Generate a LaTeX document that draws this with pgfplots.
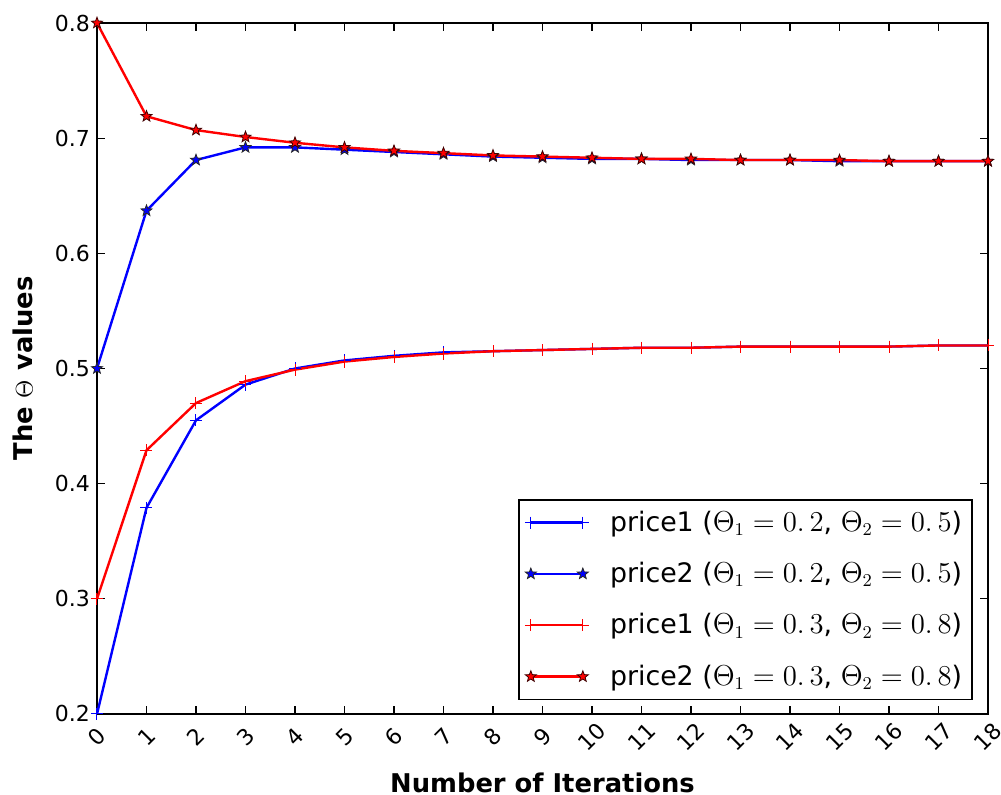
\documentclass[border=0pt]{standalone}
\usepackage{pgfplots}
\pgfplotsset{compat=1.18}
\usepackage{fontspec}
\setmainfont{DejaVu Sans}

% filled five-point star with outline
\pgfdeclareplotmark{fstar}{%
  \pgfpathmoveto{\pgfpointpolar{90}{\pgfplotmarksize}}%
  \pgfpathlineto{\pgfpointpolar{126}{0.42\pgfplotmarksize}}%
  \pgfpathlineto{\pgfpointpolar{162}{\pgfplotmarksize}}%
  \pgfpathlineto{\pgfpointpolar{198}{0.42\pgfplotmarksize}}%
  \pgfpathlineto{\pgfpointpolar{234}{\pgfplotmarksize}}%
  \pgfpathlineto{\pgfpointpolar{270}{0.42\pgfplotmarksize}}%
  \pgfpathlineto{\pgfpointpolar{306}{\pgfplotmarksize}}%
  \pgfpathlineto{\pgfpointpolar{342}{0.42\pgfplotmarksize}}%
  \pgfpathlineto{\pgfpointpolar{18}{\pgfplotmarksize}}%
  \pgfpathlineto{\pgfpointpolar{54}{0.42\pgfplotmarksize}}%
  \pgfpathclose\pgfusepathqfillstroke}

\begin{document}
\begin{tikzpicture}
\begin{axis}[
    name=ax,
    scale only axis,
    width=445.5pt, height=345.5pt,
    xmin=0, xmax=18, ymin=0.2, ymax=0.8,
    xtick={0,1,...,18},
    ytick={0.2,0.3,0.4,0.5,0.6,0.7,0.8},
    yticklabel style={/pgf/number format/fixed, /pgf/number format/precision=1},
    /pgf/number format/assume math mode=true,
    tick label style={font=\fontsize{11}{13}\selectfont},
    xticklabel style={yshift=-11.5pt, rotate=45, anchor=center, inner sep=0pt},
    major tick length=4pt,
    tick style={black, line width=0.6pt},
    axis line style={line width=0.7pt},
    xlabel={\textbf{Number of Iterations}},
    ylabel={\textbf{The $\Theta$ values}},
    label style={font=\fontsize{12.9}{15}\selectfont},
    xlabel style={at={(axis description cs:0.5,-0.1)}, anchor=center, inner sep=0pt},
    ylabel style={at={(axis description cs:-0.083,0.5)}, anchor=center},
    legend style={at={(0.983,0.0203)}, anchor=south east,
        font=\fontsize{13.4}{15}\selectfont, draw=black, line width=0.7pt,
        inner xsep=3pt, inner ysep=3.5pt, row sep=10pt,
        cells={anchor=west}},
    legend image code/.code={%
        \draw[#1] plot coordinates {(0pt,0pt) (26pt,0pt)};
        \path (0pt,0pt) (37pt,0pt);},
]
\addplot[blue, line width=1.2pt, mark=+, mark size=3pt, mark options={line width=0.5pt}]
coordinates {(0,0.200) (1,0.379) (2,0.455) (3,0.486) (4,0.500) (5,0.507) (6,0.511) (7,0.514) (8,0.515) (9,0.516) (10,0.517) (11,0.518) (12,0.518) (13,0.519) (14,0.519) (15,0.519) (16,0.519) (17,0.520) (18,0.520)};
\addlegendentry{price1 ($\Theta_1=0.\,2$, $\Theta_2=0.\,5$)}
\addplot[blue, line width=1.2pt, mark=fstar, mark size=2.9pt, mark options={fill=blue, draw=black!85, line width=0.4pt}]
coordinates {(0,0.500) (1,0.637) (2,0.681) (3,0.692) (4,0.692) (5,0.690) (6,0.688) (7,0.686) (8,0.684) (9,0.683) (10,0.682) (11,0.682) (12,0.681) (13,0.681) (14,0.681) (15,0.680) (16,0.680) (17,0.680) (18,0.680)};
\addlegendentry{price2 ($\Theta_1=0.\,2$, $\Theta_2=0.\,5$)}
\addplot[red, line width=1.2pt, mark=+, mark size=3pt, mark options={line width=0.5pt}]
coordinates {(0,0.300) (1,0.429) (2,0.470) (3,0.489) (4,0.499) (5,0.506) (6,0.510) (7,0.513) (8,0.515) (9,0.516) (10,0.517) (11,0.518) (12,0.518) (13,0.519) (14,0.519) (15,0.519) (16,0.519) (17,0.520) (18,0.520)};
\addlegendentry{price1 ($\Theta_1=0.\,3$, $\Theta_2=0.\,8$)}
\addplot[red, line width=1.2pt, mark=fstar, mark size=2.9pt, mark options={fill=red, draw=black!75!red, line width=0.4pt}]
coordinates {(0,0.800) (1,0.719) (2,0.707) (3,0.701) (4,0.696) (5,0.692) (6,0.689) (7,0.687) (8,0.685) (9,0.684) (10,0.683) (11,0.682) (12,0.682) (13,0.681) (14,0.681) (15,0.681) (16,0.680) (17,0.680) (18,0.680)};
\addlegendentry{price2 ($\Theta_1=0.\,3$, $\Theta_2=0.\,8$)}
\end{axis}
\pgfresetboundingbox
\path ([shift={(-48.5pt,-40.5pt)}]ax.south west) rectangle ([shift={(6.5pt,11.5pt)}]ax.north east);
\end{tikzpicture}
\end{document}
